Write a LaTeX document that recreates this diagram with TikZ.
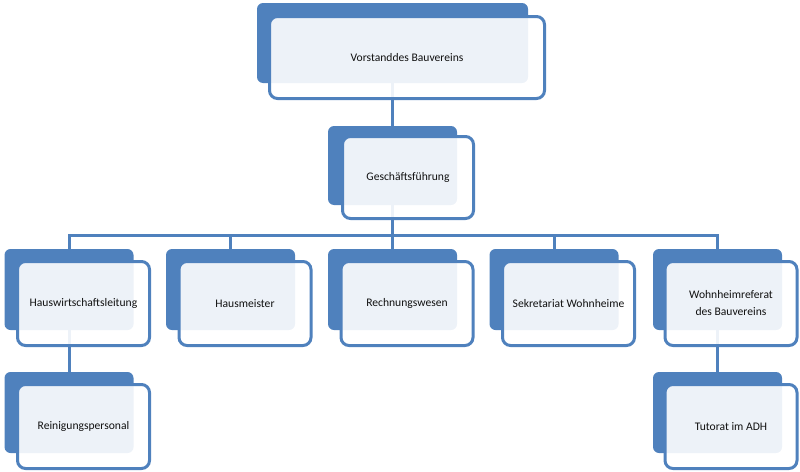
\documentclass[tikz,border=0pt]{standalone}
\usepackage{fontspec}
\setmainfont{Carlito}
\usetikzlibrary{backgrounds}
\definecolor{obBlue}{HTML}{4F81BD}
\definecolor{obText}{HTML}{111111}
\tikzset{
  backbox/.style={rectangle, rounded corners=6pt, fill=obBlue, inner sep=0pt,
    minimum width=129pt, minimum height=81pt},
  frontbox/.style={rectangle, rounded corners=8pt, draw=obBlue, line width=3pt,
    fill=white, fill opacity=0.9, text opacity=1, text=obText, inner sep=0pt,
    minimum width=132pt, minimum height=84pt, align=center,
    font=\fontsize{11.6}{17}\selectfont},
  conn/.style={draw=obBlue, line width=3pt}
}
\begin{document}
\begin{tikzpicture}[x=1pt,y=-1pt]
\useasboundingbox (0,0) rectangle (800,471);
% top
\node[backbox, minimum width=271pt, minimum height=80pt] (vb) at (392.5,43) {};
\node[frontbox, minimum width=275pt, minimum height=82pt] (v) at (407,57.5) {Vorstanddes Bauvereins};
% Geschaeftsfuehrung
\node[backbox, minimum height=79pt] (gb) at (392.5,165.5) {};
\node[frontbox, minimum width=131pt, minimum height=82pt] (g) at (408,177.5) {Geschäftsführung};
% row
\node[backbox] (hb) at (69,289.5) {};
\node[frontbox] (h) at (83.5,303.5) {Hauswirtschaftsleitung};
\node[backbox] (mb) at (230.5,289.5) {};
\node[frontbox] (m) at (245,303.5) {Hausmeister};
\node[backbox] (rb) at (392.5,289.5) {};
\node[frontbox] (r) at (407,303.5) {Rechnungswesen};
\node[backbox] (sb) at (554,289.5) {};
\node[frontbox] (s) at (568.5,303.5) {Sekretariat Wohnheime};
\node[backbox] (wb) at (717.5,289.5) {};
\node[frontbox] (w) at (731,303.5) {Wohnheimreferat\\des Bauvereins};
% bottom
\node[backbox] (pb) at (69,412.5) {};
\node[frontbox] (p) at (83.5,426.5) {Reinigungspersonal};
\node[backbox] (tb) at (717.5,412.5) {};
\node[frontbox] (t) at (731,426.5) {Tutorat im ADH};
\coordinate (bus) at (392.5,235);
\begin{scope}[on background layer]
\draw[conn] (vb.center) -- (gb.center);
\draw[conn] (gb.center) -- (bus);
\draw[conn] (hb.center) |- (bus);
\draw[conn] (wb.center) |- (bus);
\draw[conn] (mb.center) |- (bus);
\draw[conn] (sb.center) |- (bus);
\draw[conn] (rb.center) -- (bus);
\draw[conn] (hb.center) -- (pb.center);
\draw[conn] (wb.center) -- (tb.center);
\end{scope}
\end{tikzpicture}
\end{document}
